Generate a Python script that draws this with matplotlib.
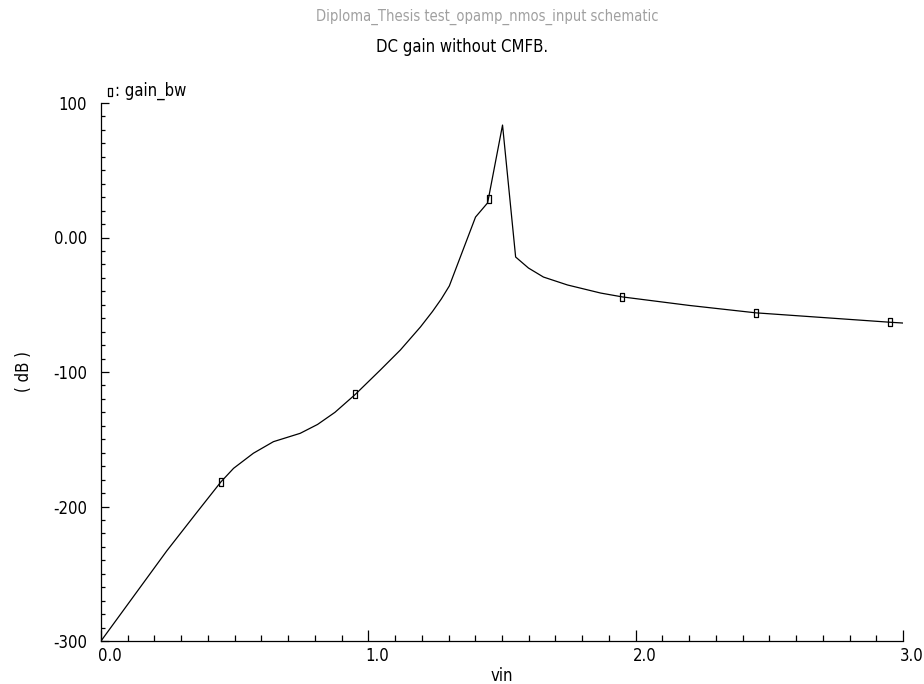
import matplotlib
matplotlib.use("Agg")
import matplotlib.pyplot as plt
import matplotlib.transforms as mtransforms
from matplotlib.ticker import MultipleLocator, FixedLocator

plt.rcParams['font.family'] = ['DejaVu Sans']
plt.rcParams['font.stretch'] = 'condensed'

# gain_bw curve
vin = [0.0, 0.246, 0.36, 0.449, 0.496, 0.57, 0.645, 0.745, 0.81, 0.875, 0.951,
       1.045, 1.12, 1.195, 1.24, 1.273, 1.303, 1.401, 1.446, 1.449, 1.502,
       1.551, 1.599, 1.655, 1.745, 1.869, 1.951, 2.2, 2.449, 2.7, 2.951, 3.0]
gain_db = [-300, -233, -204, -181.6, -171.6, -160.4, -151.8, -145.6, -139, -130, -116.7,
           -98.5, -83.6, -66.5, -55, -45.7, -36, 15.2, 25.7, 28.6, 83.6,
           -14.5, -22.7, -29.4, -35.3, -41.3, -44.2, -50.5, -56, -59.5, -63, -63.6]

# small rectangle markers
mark_vin = [0.45, 0.95, 1.45, 1.95, 2.45, 2.95]
mark_db = [-181.6, -116.7, 28.6, -44.2, -56, -63]

xticks = [0.0, 1.0, 2.0, 3.0]
xlabels = ["0.0", "1.0", "2.0", "3.0"]
yticks = [100, 0, -100, -200, -300]
ylabels = ["100", "0.00", "-100", "-200", "-300"]

rect = [(-0.4, -1), (0.4, -1), (0.4, 1), (-0.4, 1), (-0.4, -1)]

fig = plt.figure(figsize=(9.24, 6.84), dpi=100)
ax = fig.add_axes([101/924, 1 - 641/684, 802/924, 538/684])

ax.plot(vin, gain_db, color='black', lw=0.9)
ax.plot(mark_vin, mark_db, ls='none', marker=rect, markersize=5.5,
        markerfacecolor='none', markeredgecolor='black', markeredgewidth=0.9)

ax.set_xlim(0, 3.0)
ax.set_ylim(-300, 100)
ax.spines['top'].set_visible(False)
ax.spines['right'].set_visible(False)
ax.spines['left'].set_linewidth(0.9)
ax.spines['bottom'].set_linewidth(0.9)

ax.xaxis.set_major_locator(FixedLocator(xticks))
ax.set_xticklabels(xlabels)
ax.xaxis.set_minor_locator(MultipleLocator(0.1))
ax.yaxis.set_major_locator(FixedLocator(yticks))
ax.set_yticklabels(ylabels)
ax.yaxis.set_minor_locator(MultipleLocator(10))

ax.tick_params(axis='x', which='major', direction='in', length=8, width=0.9,
               labelsize=12, pad=4)
ax.tick_params(axis='x', which='minor', direction='in', length=4, width=0.9)
ax.tick_params(axis='y', which='major', direction='in', length=6, width=0.9,
               labelsize=12, pad=10)
ax.tick_params(axis='y', which='minor', direction='in', length=3, width=0.9)
shift = mtransforms.ScaledTranslation(-3/100, 0, fig.dpi_scale_trans)
for lab in ax.get_xticklabels():
    lab.set_horizontalalignment('left')
    lab.set_transform(lab.get_transform() + shift)

ax.set_xlabel("vin", fontsize=12, labelpad=2)
ax.set_ylabel("( dB )", fontsize=12)
ax.yaxis.set_label_coords(-0.085, 0.5)

fig.text(487/924, 1 - 17/684, "Diploma_Thesis test_opamp_nmos_input schematic",
         ha='center', va='center', fontsize=10.5, color='#a0a0a0')
fig.text(462/924, 1 - 47/684, "DC gain without CMFB.",
         ha='center', va='center', fontsize=12, color='black')

# legend entry
fig.lines.append(plt.Line2D([110/924], [1 - 92/684], transform=fig.transFigure,
                            ls='none', marker=rect, markersize=5.5,
                            markerfacecolor='none', markeredgecolor='black',
                            markeredgewidth=0.9))
fig.text(115/924, 1 - 91/684, ": gain_bw", ha='left', va='center', fontsize=12)

fig.savefig("out.png", dpi=100)
